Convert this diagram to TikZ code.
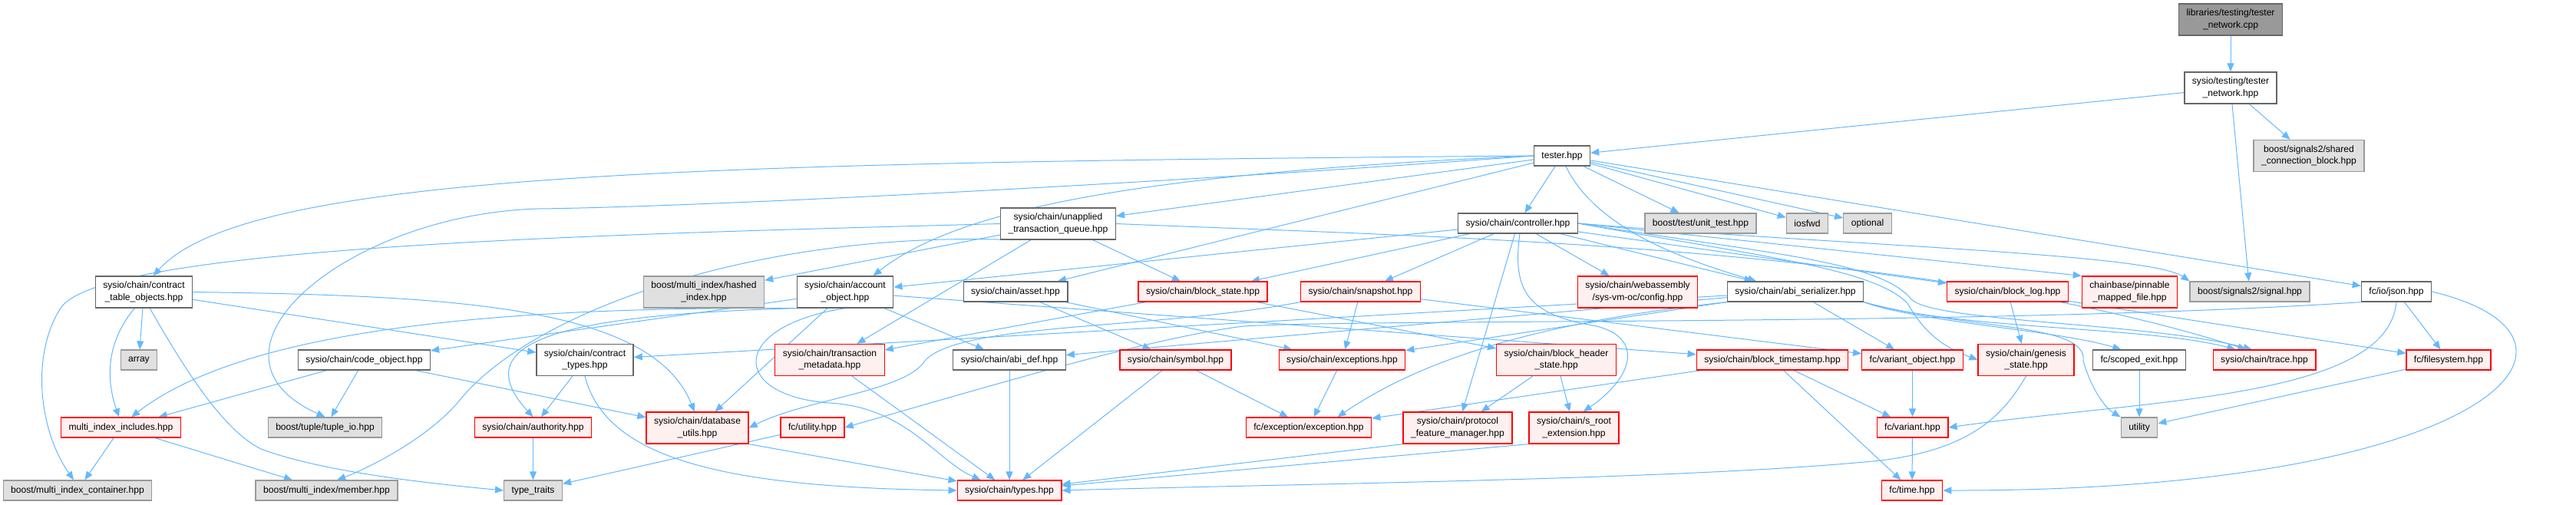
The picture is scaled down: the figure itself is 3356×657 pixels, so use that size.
\documentclass[tikz,border=0pt]{standalone}
\usepackage{fontspec}
\setmainfont{Liberation Sans}
\usetikzlibrary{arrows.meta}
\definecolor{edgeblue}{HTML}{63B8FF}
\definecolor{pinkfill}{HTML}{FFF0F0}
\definecolor{grayfill}{HTML}{E0E0E0}
\definecolor{grayline}{HTML}{999999}
\definecolor{darkline}{HTML}{666666}
\pgfdeclarelayer{back}
\pgfsetlayers{back,main}
\begin{document}
\begin{tikzpicture}[x=1pt, y=-1pt,
	every node/.style={font=\fontsize{12.1}{15.3}\selectfont, align=center, minimum height=26pt, inner xsep=10pt, inner ysep=1pt, line width=1.3pt},
	plainfile/.style={draw=darkline, fill=white},
	sysfile/.style={draw=grayline, fill=grayfill},
	redfile/.style={draw=red, fill=pinkfill},
	rootfile/.style={draw=darkline, fill=grayline},
	twoline/.style={minimum height=41pt},
	edge/.style={draw=edgeblue, line width=1pt, -{Triangle[length=11pt,width=9pt]}}]
				\useasboundingbox (0,0) rectangle (3356,657);

				% top of the graph
				\node[rootfile, twoline] (root) at (2906,25.5) {libraries/testing/tester\\\_network.cpp};
				\node[plainfile, twoline] (tnet) at (2906,114.5) {sysio/testing/tester\\\_network.hpp};
				\node[sysfile, twoline] (scb) at (3008,203) {boost/signals2/shared\\\_connection\_block.hpp};
				\node[plainfile] (tester) at (2035,203) {tester.hpp};
				\node[plainfile] (ctrl) at (1977.5,291) {sysio/chain/controller.hpp};
				\node[plainfile, twoline] (utq) at (1378.5,291.5) {sysio/chain/unapplied\\\_transaction\_queue.hpp};
				\node[sysfile] (unit) at (2215.5,291) {boost/test/unit\_test.hpp};
				\node[sysfile] (iosfwd) at (2354.5,291) {iosfwd};
				\node[sysfile] (optional) at (2433,291) {optional};

				% third row
				\node[plainfile, twoline] (cto) at (187.5,380.5) {sysio/chain/contract\\\_table\_objects.hpp};
				\node[sysfile, twoline] (hashed) at (917,380.5) {boost/multi\_index/hashed\\\_index.hpp};
				\node[plainfile, twoline] (acct) at (1101,380.5) {sysio/chain/account\\\_object.hpp};
				\node[plainfile] (asset) at (1323,380) {sysio/chain/asset.hpp};
				\node[redfile] (bstate) at (1567,380) {sysio/chain/block\_state.hpp};
				\node[redfile] (snap) at (1772.5,380) {sysio/chain/snapshot.hpp};
				\node[redfile, twoline] (wasm) at (2133.5,380.5) {sysio/chain/webassembly\\/sys-vm-oc/config.hpp};
				\node[plainfile] (abiser) at (2339,380) {sysio/chain/abi\_serializer.hpp};
				\node[redfile] (blog) at (2615.5,380) {sysio/chain/block\_log.hpp};
				\node[redfile, twoline] (pinn) at (2774.5,380.5) {chainbase/pinnable\\\_mapped\_file.hpp};
				\node[sysfile] (signal) at (2931,380) {boost/signals2/signal.hpp};
				\node[plainfile] (json) at (3122,380) {fc/io/json.hpp};

				% fourth row
				\node[sysfile] (array) at (181,469) {array};
				\node[plainfile] (codeobj) at (474.5,469) {sysio/chain/code\_object.hpp};
				\node[plainfile, twoline] (ctypes) at (762,469) {sysio/chain/contract\\\_types.hpp};
				\node[redfile, twoline] (tmeta) at (1081,469) {sysio/chain/transaction\\\_metadata.hpp};
				\node[plainfile] (abidef) at (1315,469) {sysio/chain/abi\_def.hpp};
				\node[redfile] (symbol) at (1531.5,469) {sysio/chain/symbol.hpp};
				\node[redfile] (excs) at (1748.5,469) {sysio/chain/exceptions.hpp};
				\node[redfile, twoline] (bhs) at (2027.5,469) {sysio/chain/block\_header\\\_state.hpp};
				\node[redfile] (bts) at (2309,469) {sysio/chain/block\_timestamp.hpp};
				\node[redfile] (varobj) at (2491.5,469) {fc/variant\_object.hpp};
				\node[redfile, twoline] (genesis) at (2639.5,469) {sysio/chain/genesis\\\_state.hpp};
				\node[plainfile] (scoped) at (2787,469) {fc/scoped\_exit.hpp};
				\node[redfile] (trace) at (2950,469) {sysio/chain/trace.hpp};
				\node[redfile] (fs) at (3190,469) {fc/filesystem.hpp};

				% fifth row
				\node[redfile] (mii) at (157.5,557) {multi\_index\_includes.hpp};
				\node[sysfile] (tuple) at (423.5,557) {boost/tuple/tuple\_io.hpp};
				\node[redfile] (auth) at (694.5,557) {sysio/chain/authority.hpp};
				\node[redfile, twoline] (dbu) at (908.5,557.5) {sysio/chain/database\\\_utils.hpp};
				\node[redfile] (futil) at (1058.5,557) {fc/utility.hpp};
				\node[redfile] (exc) at (1705,557) {fc/exception/exception.hpp};
				\node[redfile, twoline] (pfm) at (1899,557.5) {sysio/chain/protocol\\\_feature\_manager.hpp};
				\node[redfile, twoline] (sroot) at (2050.5,557.5) {sysio/chain/s\_root\\\_extension.hpp};
				\node[redfile] (variant) at (2491.5,557) {fc/variant.hpp};
				\node[sysfile] (utility) at (2787,557) {utility};

				% bottom row
				\node[sysfile] (mic) at (101,639) {boost/multi\_index\_container.hpp};
				\node[sysfile] (member) at (425.5,639) {boost/multi\_index/member.hpp};
				\node[sysfile] (ttraits) at (694.5,639) {type\_traits};
				\node[redfile] (types) at (1315,639) {sysio/chain/types.hpp};
				\node[redfile] (time) at (2491,639) {fc/time.hpp};

				\begin{pgfonlayer}{back}
				\foreach \a/\b in {root/tnet, tnet/tester, tnet/scb, tnet/signal,
						tester/ctrl, tester/unit, tester/iosfwd, tester/optional, tester/json, tester/utq, tester/asset,
						ctrl/acct, ctrl/bstate, ctrl/snap, ctrl/pfm, ctrl/wasm, ctrl/abiser, ctrl/blog, ctrl.east/pinn.north west,
						utq/hashed, utq/tmeta, utq/bstate, cto/array, cto/ctypes,
						acct/dbu, acct/codeobj, acct/abidef, acct/bts, asset/symbol, asset/excs,
						bstate/bhs, bstate/tmeta, snap/excs, snap/varobj,
						abiser/abidef, abiser/excs, abiser/varobj, abiser/ctypes,
						blog/genesis, blog/fs, json/fs,
						codeobj/mii, codeobj/tuple, codeobj/dbu, ctypes/auth,
						tmeta/types, abidef/types, symbol/types, symbol/exc, excs/exc,
						bhs/pfm, bhs/sroot, bts/exc, bts/variant, bts/time, varobj/variant,
						scoped/utility, fs/utility, mii/mic, mii/member, auth/ttraits, futil/ttraits,
						dbu.south east/types, pfm.south west/types, sroot.south west/types, variant/time}{
						\draw[edge] (\a) -- (\b);
					}

				\draw[edge] (tester.west) .. controls (900,212) and (320,225) .. (cto.60);
				\draw[edge] (tester.west) .. controls (1500,240) and (900,270) .. (700,272) .. controls (450,280) and (240,460) .. (tuple.north);
				\draw[edge] (tester.west) .. controls (1500,225) and (1250,270) .. (acct.30);
				\draw[edge] (tester.290) .. controls (2080,300) and (2200,340) .. (abiser.165);
				\draw[edge] (utq.west) .. controls (800,305) and (140,320) .. (80,400) .. controls (40,460) and (50,560) .. (mic.110);
				\draw[edge] (utq.200) .. controls (1000,300) and (700,400) .. (600,520) .. controls (560,570) and (480,610) .. (member.45);
				\draw[edge] (utq.east) .. controls (1900,310) and (2500,320) .. (trace.150);
				\draw[edge] (cto.east) .. controls (600,385) and (850,400) .. (dbu.100);
				\draw[edge] (cto.240) .. controls (135,450) and (140,500) .. (mii.100);
				\draw[edge] (cto.290) .. controls (240,480) and (290,560) .. (340,585) .. controls (420,615) and (560,630) .. (ttraits.west);
				\draw[edge] (acct.south west) .. controls (700,400) and (330,420) .. (mii.45);
				\draw[edge] (acct.south west) .. controls (750,410) and (600,440) .. (auth.north);
				\draw[edge] (acct.south) .. controls (950,425) and (950,515) .. (1080,525) .. controls (1180,530) and (1220,600) .. (types.160);
				\draw[edge] (ctrl.280) .. controls (1970,380) and (1990,410) .. (2080,425) .. controls (2140,440) and (2130,490) .. (sroot.60);
				\draw[edge] (ctrl.east) .. controls (2300,330) and (2450,340) .. (2490,390) .. controls (2520,420) and (2800,420) .. (trace.140);
				\draw[edge] (ctrl.east) .. controls (2300,335) and (2440,350) .. (2485,395) .. controls (2510,440) and (2540,455) .. (genesis.west);
				\draw[edge] (ctrl.east) .. controls (2400,320) and (2800,330) .. (signal.north west);
				\draw[edge] (abiser.south east) .. controls (2500,420) and (2680,430) .. (scoped.150);
				\draw[edge] (abiser.south east) .. controls (2550,430) and (2800,425) .. (trace.160);
				\draw[edge] (abiser.south east) .. controls (2560,430) and (2720,420) .. (2714,470) .. controls (2722,500) and (2740,530) .. (utility.north west);
				\draw[edge] (abiser.south west) .. controls (2000,420) and (1850,470) .. (exc.20);
				\draw[edge] (snap.south west) .. controls (1500,430) and (1250,420) .. (1205,470) .. controls (1180,510) and (1050,520) .. (dbu.east);
				\draw[edge] (json.south west) .. controls (2600,425) and (1800,415) .. (1620,425) .. controls (1500,440) and (1300,500) .. (futil.east);
				\draw[edge] (json.south) .. controls (3110,520) and (2800,520) .. (variant.east);
				\draw[edge] (json.east) .. controls (3420,440) and (3250,640) .. (time.east);
				\draw[edge] (genesis.south) .. controls (2610,540) and (2570,585) .. (2450,600) .. controls (2200,625) and (1700,630) .. (types.east);
				\draw[edge] (ctypes.south) .. controls (790,600) and (950,635) .. (types.west);
				\end{pgfonlayer}
			\end{tikzpicture}
\end{document}
